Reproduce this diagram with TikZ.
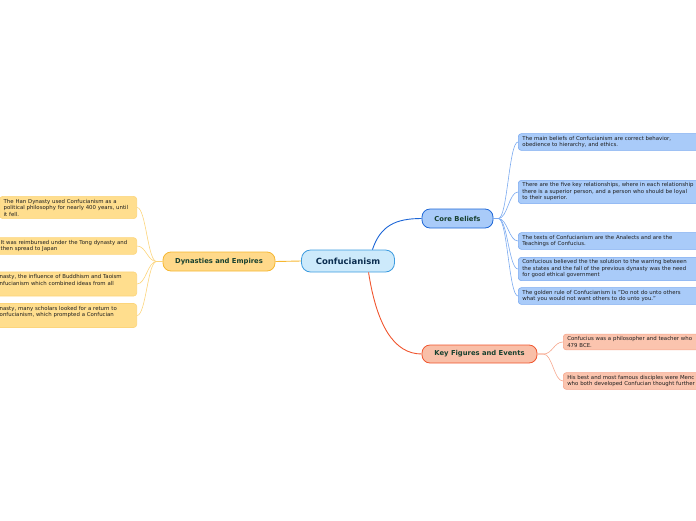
\documentclass[tikz,border=0pt]{standalone}
\usepackage{fontspec}
\setmainfont{DejaVu Sans}
\usetikzlibrary{positioning}

\definecolor{topicfill}{HTML}{CDEAFB}
\definecolor{topicdraw}{HTML}{3C9BDF}
\definecolor{topictext}{HTML}{0C2E50}
\definecolor{branchtext}{HTML}{17402F}
\definecolor{leaftext}{HTML}{1E1E1E}
\definecolor{dynfill}{HTML}{FFD98A}
\definecolor{dyndraw}{HTML}{F6B731}
\definecolor{dynleaf}{HTML}{FFDE8E}
\definecolor{dynleafdraw}{HTML}{FCD57C}
\definecolor{corefill}{HTML}{A9CBF9}
\definecolor{coredraw}{HTML}{1D66D6}
\definecolor{coreleafdraw}{HTML}{7BAAF0}
\definecolor{keyfill}{HTML}{F9BFA8}
\definecolor{keydraw}{HTML}{F0552E}
\definecolor{keyleaf}{HTML}{FBC4AE}
\definecolor{keyleafdraw}{HTML}{F6A68C}

\begin{document}
\begin{tikzpicture}[
        x=1pt, y=-1pt,
        topic/.style={rounded corners=9pt, draw=topicdraw, fill=topicfill, line width=0.8pt, minimum width=93pt, minimum height=22pt, inner sep=0pt, font=\fontsize{8.5}{10}\selectfont\bfseries, text=topictext},
        branch/.style={rounded corners=8pt, line width=0.8pt, minimum height=19pt, inner sep=0pt, font=\fontsize{6.8}{8}\selectfont\bfseries, text=branchtext},
        leaf/.style={rounded corners=3pt, line width=0.6pt, align=left, inner xsep=4pt, inner ysep=2.5pt, font=\fontsize{5.4}{6.5}\selectfont, text=leaftext},
        dynleafbox/.style={leaf, draw=dynleafdraw, fill=dynleaf, text width=131pt, anchor=east},
        coreleafbox/.style={leaf, draw=coreleafdraw, fill=corefill, text width=210pt, anchor=west},
        keyleafbox/.style={leaf, draw=keyleafdraw, fill=keyleaf, text width=170pt, anchor=west},
        thinline/.style={line width=0.6pt}
    ]
        \useasboundingbox (0,0) rectangle (696,520);

        % Central topic and branches
        \node[topic] (topic) at (348,261) {Confucianism};
        \node[branch, draw=dyndraw, fill=dynfill, minimum width=112pt] (dyn) at (219,261.5) {Dynasties and Empires};
        \node[branch, draw=coredraw, fill=corefill, minimum width=71pt] (core) at (457.5,218.5) {Core Beliefs};
        \node[branch, draw=keydraw, fill=keyfill, minimum width=115pt, minimum height=18pt] (key) at (479.5,354) {Key Figures and Events};

        % Leaves on the left
        \node[dynleafbox, text width=129pt] (dyn1) at (137,207.5) {The Han Dynasty used Confucianism as a\\political philosophy for nearly 400 years, until\\it fell.};
        \node[dynleafbox, text width=132pt] (dyn2) at (137,246) {It was reimbursed under the Tong dynasty and\\then spread to Japan};
        \node[dynleafbox, text width=133pt] (dyn3) at (137,284) {nasty, the influence of Buddhism and Taoism\\nfucianism which combined ideas from all\\\strut};
        \node[dynleafbox, text width=133pt] (dyn4) at (137,315.5) {nasty, many scholars looked for a return to\\onfucianism, which prompted a Confucian\\\strut};

        % Leaves on the right
        \node[coreleafbox] (core1) at (518,142) {The main beliefs of Confucianism are correct behavior,\\obedience to hierarchy, and ethics.};
        \node[coreleafbox] (core2) at (518,192) {There are the five key relationships, where in each relationship\\there is a superior person, and a person who should be loyal\\to their superior.};
        \node[coreleafbox] (core3) at (518,241) {The texts of Confucianism are the Analects and are the\\Teachings of Confucius.};
        \node[coreleafbox] (core4) at (518,269) {Confucious believed the the solution to the warring between\\the states and the fall of the previous dynasty was the need\\for good ethical government};
        \node[coreleafbox] (core5) at (518,296) {The golden rule of Confucianism is "Do not do unto others\\what you would not want others to do unto you."};
        \node[keyleafbox] (key1) at (563,342) {Confucius was a philosopher and teacher who\\479 BCE.};
        \node[keyleafbox] (key2) at (563,381) {His best and most famous disciples were Menc\\who both developed Confucian thought further};

        % Connections
        \draw[dyndraw, line width=0.9pt] (topic.west) -- (dyn.east);
        \draw[coredraw, line width=0.9pt] (topic.25) .. controls +(8,-24) and +(-26,0) .. (core.west);
        \draw[keydraw, line width=0.9pt] (topic.-29) .. controls +(8,52) and +(-28,0) .. (key.west);

        \foreach \i in {1,...,4} {
            \draw[thinline, dynleafdraw] (dyn.west) -- ++(-6,0) .. controls +(-9,0) and +(9,0) .. (dyn\i.east);
        }
        \foreach \i in {1,...,5} {
            \draw[thinline, coreleafdraw] (core.east) -- ++(5,0) .. controls +(9,0) and +(-9,0) .. (core\i.west);
        }
        \foreach \i in {1,2} {
            \draw[thinline, keyleafdraw] (key.east) -- ++(6,0) .. controls +(9,0) and +(-9,0) .. (key\i.west);
        }
    \end{tikzpicture}
\end{document}
